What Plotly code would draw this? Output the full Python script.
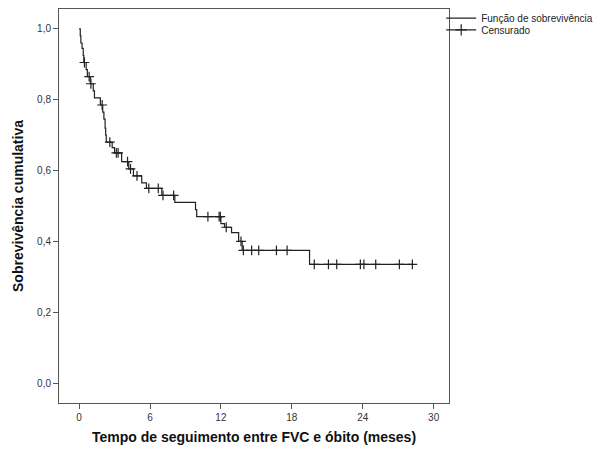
import plotly.graph_objects as go

# Kaplan-Meier step curve: event times (months) and survival after each event
event_times = [0.0, 0.1, 0.15, 0.25, 0.35, 0.4, 0.6, 0.7, 0.95, 1.2, 1.3, 1.8, 2.0, 2.1, 2.2,
               2.25, 2.3, 2.8, 3.0, 3.6, 4.2, 4.6, 5.3, 5.7, 7.0, 8.1, 9.85, 9.95, 12.0,
               12.3, 12.9, 13.5, 13.8, 19.5]
survival = [1.0, 0.98, 0.96, 0.945, 0.925, 0.905, 0.885, 0.865, 0.845, 0.825, 0.805, 0.785,
            0.765, 0.745, 0.72, 0.70, 0.68, 0.665, 0.65, 0.625, 0.605, 0.585, 0.565, 0.55,
            0.53, 0.51, 0.49, 0.47, 0.45, 0.44, 0.425, 0.40, 0.375, 0.335]
end_time = 28.2

# Censored observations (months)
censored_times = [0.45, 0.85, 1.0, 1.95, 2.6, 3.15, 3.3, 4.1, 4.35, 4.9, 5.9, 6.7, 7.1, 8.0,
                  10.9, 11.85, 11.95, 12.45, 13.7, 13.9, 14.6, 15.2, 16.7, 17.6,
                  19.9, 21.1, 21.8, 23.8, 24.1, 25.1, 27.1, 28.2]

x_ticks = [0, 6, 12, 18, 24, 30]
y_ticks = [0.0, 0.2, 0.4, 0.6, 0.8, 1.0]


def surv_at(t):
    s = survival[0]
    for et, sv in zip(event_times, survival):
        if et <= t:
            s = sv
        else:
            break
    return s


step_x = event_times + [end_time]
step_y = survival + [survival[-1]]
cens_y = [surv_at(t) for t in censored_times]

line_color = "#222222"
font_family = "Liberation Sans, Arial"

fig = go.Figure()
fig.add_trace(go.Scatter(
    x=step_x, y=step_y, mode="lines", line=dict(shape="hv", color=line_color, width=1.2),
    name="Função de sobrevivência", hoverinfo="skip", legend="legend"))
fig.add_trace(go.Scatter(
    x=censored_times, y=cens_y, mode="markers",
    marker=dict(symbol="cross-thin", size=7, line=dict(color=line_color, width=1.2)),
    showlegend=False, hoverinfo="skip"))
fig.add_trace(go.Scatter(
    x=[None], y=[None], mode="lines+markers", name="Censurado",
    line=dict(color=line_color, width=1.2), legend="legend2",
    marker=dict(symbol="cross-thin", size=8, line=dict(color=line_color, width=1.2))))

axis_common = dict(showline=True, linecolor="#555555", linewidth=1, mirror=True,
                   ticks="outside", ticklen=5, tickcolor="#555555", showgrid=False,
                   zeroline=False, automargin=False,
                   tickfont=dict(family=font_family, size=10, color="#333333"))

legend_common = dict(xanchor="left", yanchor="middle", font=dict(family=font_family, size=10, color="#222222"),
                     itemwidth=30, bgcolor="rgba(0,0,0,0)", borderwidth=0)

fig.update_layout(
    width=598, height=449,
    margin=dict(l=59, r=149, t=9, b=46, autoexpand=False),
    paper_bgcolor="white", plot_bgcolor="white",
    separators=",.",
    font=dict(family=font_family, color="#222222"),
    xaxis=dict(range=[-1.7, 31.3], tickvals=x_ticks, ticktext=[str(v) for v in x_ticks],
               title=dict(text="<b>Tempo de seguimento entre FVC e óbito (meses)</b>",
                          font=dict(size=14, color="#111111"), standoff=10),
               **axis_common),
    yaxis=dict(range=[-0.056, 1.056], tickvals=y_ticks, tickformat=".1f",
               title=dict(text="<b>Sobrevivência cumulativa</b>",
                          font=dict(size=14, color="#111111"), standoff=10),
               **axis_common),
    legend=dict(x=0.98, y=0.977, **legend_common),
    legend2=dict(x=0.98, y=0.947, **legend_common),
)

fig.write_html("out.html", config={"displayModeBar": False},
               post_script="document.body.style.margin='0';")
